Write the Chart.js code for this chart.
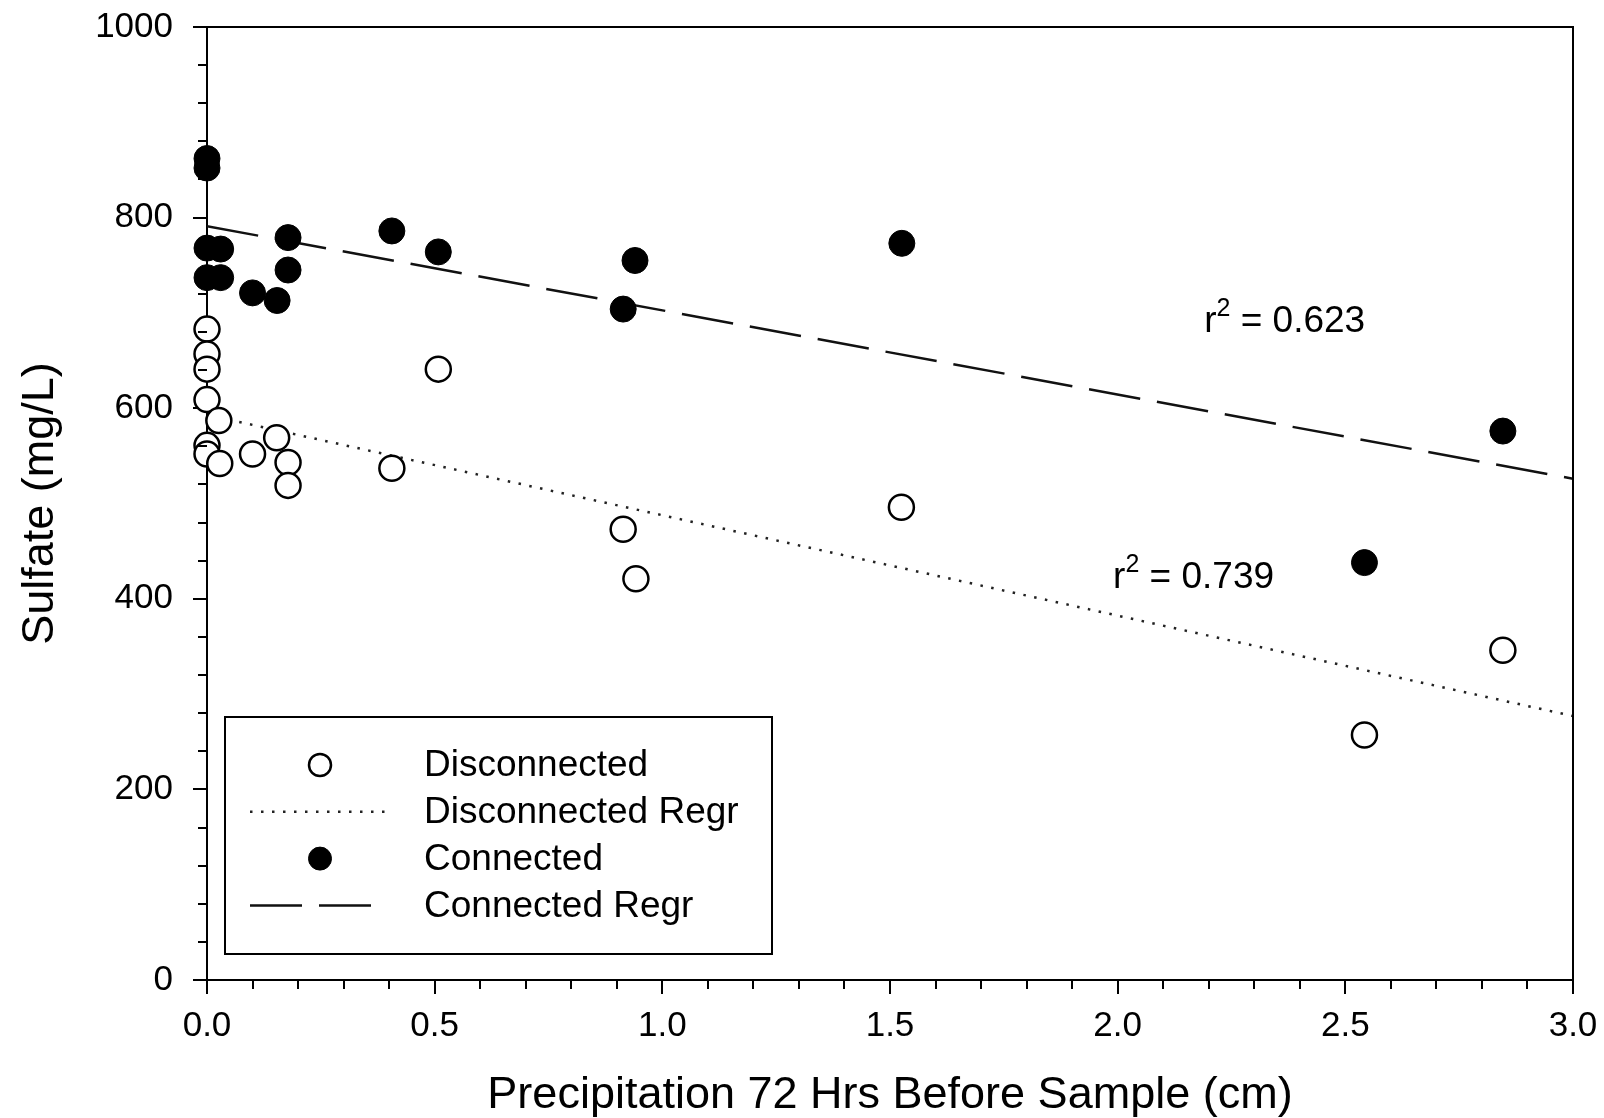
<!DOCTYPE html>
<html>
<head>
<meta charset="utf-8">
<title>Sulfate vs Precipitation</title>
<script src="https://cdn.jsdelivr.net/npm/chart.js@4.4.1/dist/chart.umd.min.js"></script>
<style>
  html, body { margin: 0; padding: 0; background: #fff; }
</style>
</head>
<body>
<canvas id="sulfateChart" width="1604" height="1118"></canvas>
<script>
// values
const disconnectedX = [0, 0, 0, 0, 0.026, 0, 0, 0.028, 0.1, 0.153, 0.178, 0.178, 0.406, 0.508, 0.914, 0.942, 1.525, 2.542, 2.846];
const disconnectedY = [683, 657, 641, 609, 587, 561, 552, 542, 552, 569, 543, 519, 537, 641, 473, 421, 496, 257, 346];

const connectedX = [0, 0, 0, 0.03, 0, 0.03, 0.1, 0.154, 0.178, 0.178, 0.406, 0.508, 0.914, 0.94, 1.526, 2.542, 2.846];
const connectedY = [862, 852, 768, 767, 737, 737, 721, 713, 779, 745, 786, 764, 704, 755, 773, 438, 576];

// regression lines, ends at x = 0 and x = 3
const regrX = [0, 3];
const disconnectedRegrY = [593, 277];
const connectedRegrY = [791, 526];

const xTicks = [0, 0.5, 1, 1.5, 2, 2.5, 3];
const yTicks = [0, 200, 400, 600, 800, 1000];
const xMinorTicks = [0.1, 0.2, 0.3, 0.4, 0.6, 0.7, 0.8, 0.9, 1.1, 1.2, 1.3, 1.4, 1.6, 1.7, 1.8, 1.9,
                     2.1, 2.2, 2.3, 2.4, 2.6, 2.7, 2.8, 2.9];
const yMinorTicks = [40, 80, 120, 160, 240, 280, 320, 360, 440, 480, 520, 560, 640, 680, 720, 760, 840, 880, 920, 960];

const r2Text = ["0.623", "0.739"];
const r2X = [2.19, 1.99];
const r2Y = [680, 411];

const FONT = "'Liberation Sans', Arial, sans-serif";
Chart.defaults.font.family = FONT;
Chart.defaults.color = "#000";

function toPoints(xs, ys) {
    return xs.map((x, i) => ({ x: x, y: ys[i] }));
}

// frame, minor ticks, legend box and r^2 labels
const extrasPlugin = {
    id: "extras",
    afterDraw(chart) {
        const ctx = chart.ctx;
        const area = chart.chartArea;
        const xs = chart.scales.x;
        const ys = chart.scales.y;

        ctx.save();
        ctx.strokeStyle = "#000";
        ctx.lineWidth = 2;

        // top and right edges of the box
        ctx.beginPath();
        ctx.moveTo(area.left, area.top);
        ctx.lineTo(area.right, area.top);
        ctx.lineTo(area.right, area.bottom);
        ctx.stroke();

        // minor ticks
        ctx.beginPath();
        xMinorTicks.forEach(v => {
            const px = Math.round(xs.getPixelForValue(v));
            ctx.moveTo(px, area.bottom);
            ctx.lineTo(px, area.bottom + 9);
        });
        yMinorTicks.forEach(v => {
            const py = Math.round(ys.getPixelForValue(v));
            ctx.moveTo(area.left, py);
            ctx.lineTo(area.left - 9, py);
        });
        ctx.stroke();

        // legend
        const box = { left: 225, top: 717, right: 772, bottom: 954 };
        ctx.lineWidth = 2;
        ctx.strokeRect(box.left, box.top, box.right - box.left, box.bottom - box.top);

        ctx.font = "37px " + FONT;
        ctx.textAlign = "left";
        ctx.textBaseline = "middle";
        chart.data.datasets.forEach(ds => {
            const cy = 765 + ds.legendRow * 46.8;
            if (ds.showLine) {
                ctx.save();
                ctx.strokeStyle = ds.borderColor;
                ctx.lineWidth = ds.borderWidth;
                ctx.setLineDash(ds.borderDash || []);
                ctx.beginPath();
                ctx.moveTo(250, cy);
                ctx.lineTo(ds.borderDash[0] > 20 ? 373 : 390, cy);
                ctx.stroke();
                ctx.restore();
            } else {
                ctx.save();
                ctx.beginPath();
                ctx.arc(320, cy, ds.pointRadius - 1.5, 0, Math.PI * 2);
                ctx.fillStyle = ds.backgroundColor;
                ctx.fill();
                ctx.lineWidth = ds.borderWidth;
                ctx.strokeStyle = ds.borderColor;
                ctx.stroke();
                ctx.restore();
            }
            ctx.fillStyle = "#000";
            ctx.fillText(ds.label, 424, cy + 1);
        });

        // r^2 labels
        ctx.textBaseline = "alphabetic";
        r2Text.forEach((t, i) => {
            let px = xs.getPixelForValue(r2X[i]);
            const py = ys.getPixelForValue(r2Y[i]);
            ctx.font = "37px " + FONT;
            ctx.fillText("r", px, py);
            px += ctx.measureText("r").width;
            ctx.font = "25px " + FONT;
            ctx.fillText("2", px, py - 16);
            px += ctx.measureText("2").width;
            ctx.font = "37px " + FONT;
            ctx.fillText(" = " + t, px, py);
        });

        ctx.restore();
    }
};

const ctx = document.getElementById("sulfateChart").getContext("2d");

new Chart(ctx, {
    type: "scatter",
    data: {
        datasets: [
            {
                label: "Disconnected",
                legendRow: 0,
                data: toPoints(disconnectedX, disconnectedY),
                pointRadius: 12.5,
                pointStyle: "circle",
                backgroundColor: "#fff",
                borderColor: "#000",
                borderWidth: 2.5,
                clip: false,
                order: 0
            },
            {
                label: "Connected",
                legendRow: 2,
                data: toPoints(connectedX, connectedY),
                pointRadius: 13,
                pointStyle: "circle",
                backgroundColor: "#000",
                borderColor: "#000",
                borderWidth: 1,
                clip: false,
                order: 0
            },
            {
                label: "Disconnected Regr",
                legendRow: 1,
                data: toPoints(regrX, disconnectedRegrY),
                showLine: true,
                pointRadius: 0,
                borderColor: "#222",
                borderWidth: 2.5,
                borderDash: [2.5, 8.5],
                order: 1
            },
            {
                label: "Connected Regr",
                legendRow: 3,
                data: toPoints(regrX, connectedRegrY),
                showLine: true,
                pointRadius: 0,
                borderColor: "#111",
                borderWidth: 2.5,
                borderDash: [52, 17],
                order: 1
            }
        ]
    },
    options: {
        responsive: false,
        devicePixelRatio: 1,
        animation: false,
        events: [],
        layout: { padding: { left: 0, top: 27, right: 31, bottom: 0 } },
        plugins: {
            legend: { display: false },
            tooltip: { enabled: false }
        },
        scales: {
            x: {
                type: "linear",
                min: 0,
                max: 3,
                afterBuildTicks: s => { s.ticks = xTicks.map(v => ({ value: v })); },
                afterFit: s => {
                    s.height = 138;
                    s.paddingLeft = 0;
                    s.paddingRight = 0;
                },
                ticks: {
                    font: { size: 35 },
                    padding: 11,
                    callback: v => v.toFixed(1)
                },
                grid: {
                    drawOnChartArea: false,
                    drawTicks: true,
                    tickLength: 14,
                    color: "#000",
                    lineWidth: 2
                },
                border: { display: true, color: "#000", width: 2 },
                title: {
                    display: true,
                    text: "Precipitation 72 Hrs Before Sample (cm)",
                    font: { size: 45, lineHeight: 1 },
                    padding: { top: 0, bottom: 0 }
                }
            },
            y: {
                type: "linear",
                min: 0,
                max: 1000,
                afterBuildTicks: s => { s.ticks = yTicks.map(v => ({ value: v })); },
                afterFit: s => {
                    s.width = 207;
                    s.paddingTop = 0;
                    s.paddingBottom = 0;
                },
                ticks: {
                    font: { size: 35 },
                    padding: 20,
                    callback: v => String(v)
                },
                grid: {
                    drawOnChartArea: false,
                    drawTicks: true,
                    tickLength: 14,
                    color: "#000",
                    lineWidth: 2
                },
                border: { display: true, color: "#000", width: 2 },
                title: {
                    display: true,
                    text: "Sulfate (mg/L)",
                    font: { size: 45 },
                    padding: { top: 14, bottom: 0 }
                }
            }
        }
    },
    plugins: [extrasPlugin]
});
</script>
</body>
</html>
